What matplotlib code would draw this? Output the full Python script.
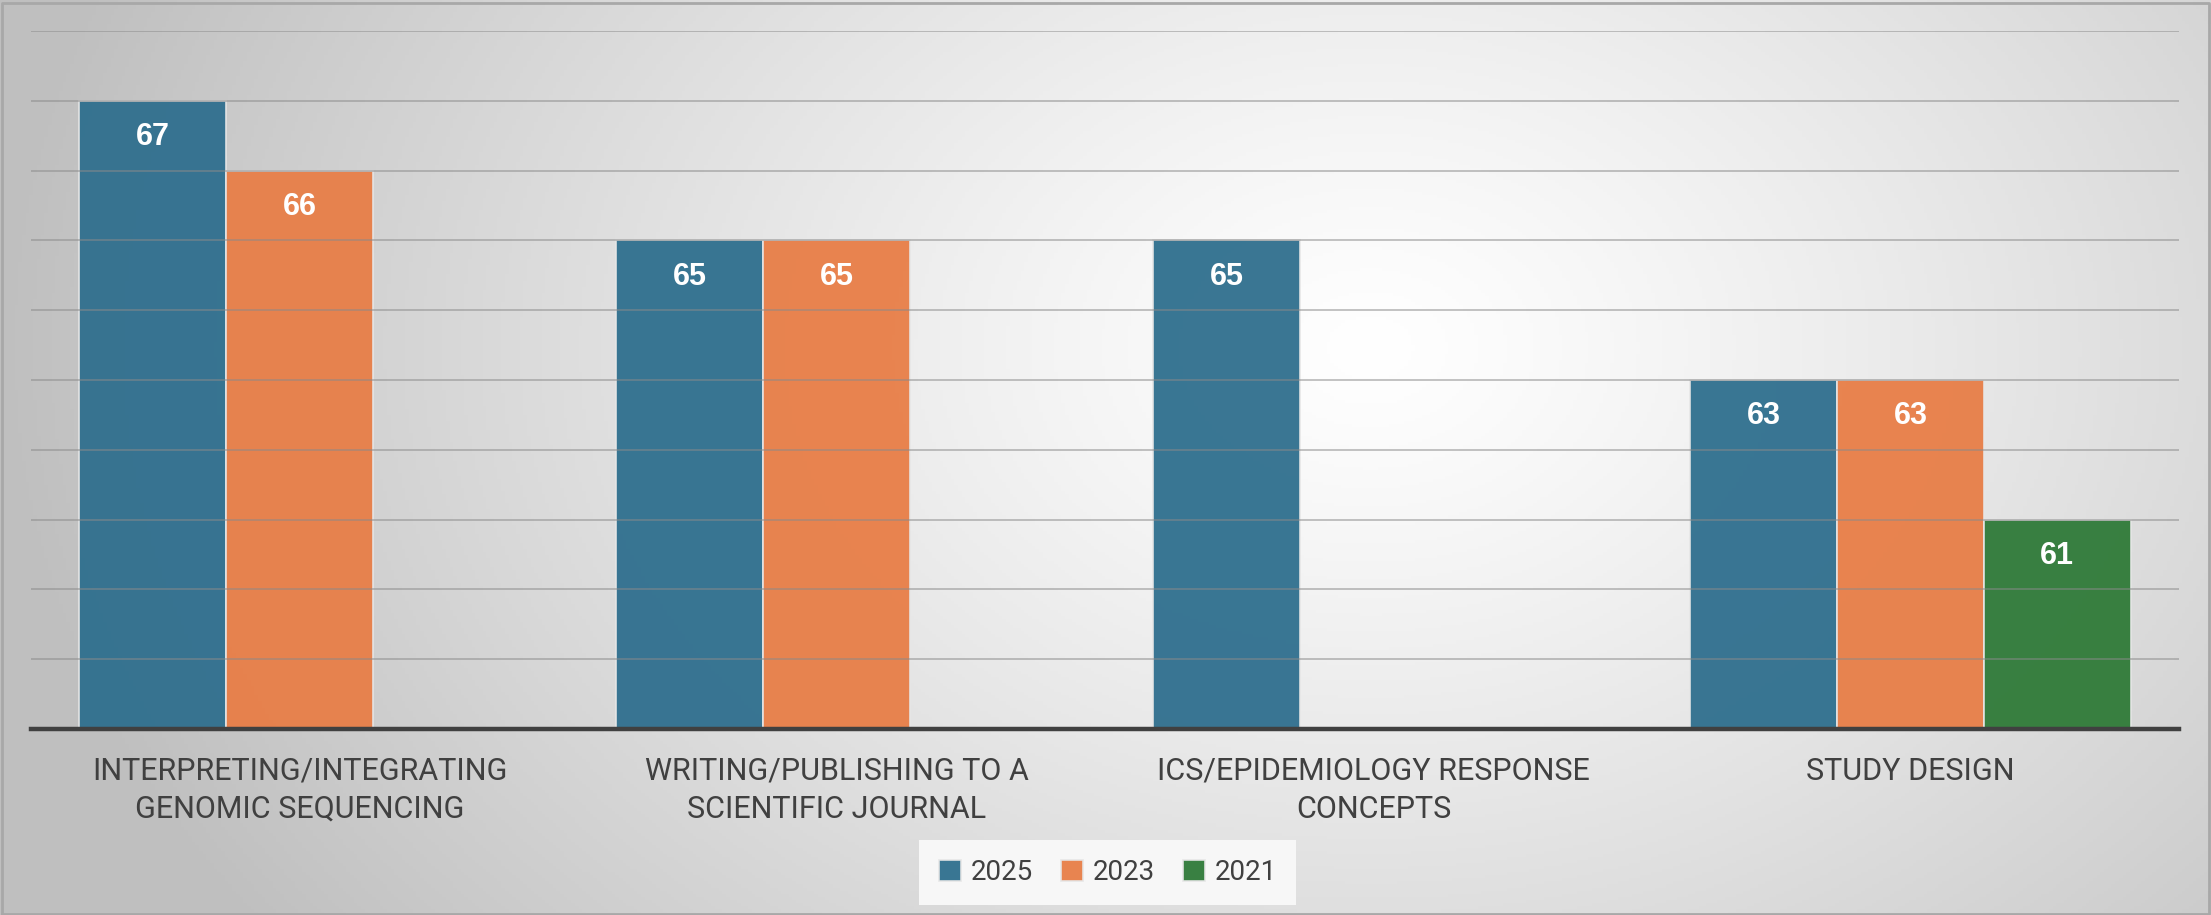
import matplotlib
matplotlib.use("Agg")
import matplotlib.pyplot as plt
import numpy as np

categories = ["INTERPRETING/INTEGRATING\nGENOMIC SEQUENCING",
              "WRITING/PUBLISHING TO A\nSCIENTIFIC JOURNAL",
              "ICS/EPIDEMIOLOGY RESPONSE\nCONCEPTS",
              "STUDY DESIGN"]
years = ["2025", "2023", "2021"]
v2025 = [67, 65, 65, 63]
v2023 = [66, 65, np.nan, 63]
v2021 = [np.nan, np.nan, np.nan, 61]
colors = ["#2f6f8e", "#e87e47", "#2f7a38"]

label_font = ["Liberation Sans Narrow", "Roboto", "DejaVu Sans"]

fig = plt.figure(figsize=(22.11, 9.15), dpi=100)

# radial gradient background
bg = fig.add_axes([0, 0, 1, 1], zorder=-5)
gx, gy = np.meshgrid(np.linspace(0, 1, 600), np.linspace(0, 1, 300))
r = np.sqrt(((gx - 0.62) / 0.62) ** 2 + ((gy - 0.38) / 1.1) ** 2)
shade = 1.0 - 0.25 * np.clip(r, 0, 1) ** 1.2
bg.imshow(np.dstack([shade] * 3), extent=[0, 1, 0, 1], aspect="auto", origin="upper")
bg.set_xlim(0, 1)
bg.set_ylim(0, 1)
bg.axis("off")
# thin frame around the picture
bg.plot([0.001, 0.999, 0.999, 0.001, 0.001], [0.001, 0.001, 0.997, 0.997, 0.001],
        color="#a8a8a8", lw=2, transform=bg.transAxes, clip_on=False)

ax = fig.add_axes([0.014, 0.2033, 0.9715, 0.7627])
ax.patch.set_alpha(0)

x = np.arange(len(categories))
w = 0.82 / 3
series = [v2025, v2023, v2021]
for i, (vals, c, yr) in enumerate(zip(series, colors, years)):
    pos = x + (i - 1) * w
    bars = ax.bar(pos, vals, width=w, color=c, alpha=0.95, edgecolor="#e6e6e6",
                  linewidth=1.2, label=yr, zorder=2)
    for p, v in zip(pos, vals):
        if not np.isnan(v):
            ax.text(p, v - 0.52, f"{v:g}", ha="center", va="center", color="white",
                    fontsize=22, fontweight="bold", family="Liberation Sans", zorder=4)

ax.set_xlim(-0.5, 3.5)
ax.set_ylim(58, 68)
ax.set_yticks(np.arange(59, 69, 1))
ax.yaxis.grid(True, color="#8a8a8a", lw=1.3, alpha=0.55, zorder=3)
ax.set_axisbelow(False)
ax.tick_params(axis="y", length=0, labelleft=False)
ax.tick_params(axis="x", length=0, pad=20)
ax.set_xticks(x)
ax.set_xticklabels(categories, fontsize=22, color="#404040", family=label_font,
                   linespacing=1.4)
for s in ["top", "right", "left"]:
    ax.spines[s].set_visible(False)
ax.spines["bottom"].set_color("#404040")
ax.spines["bottom"].set_linewidth(3.2)
ax.spines["bottom"].set_zorder(5)

leg = fig.legend(loc="center", bbox_to_anchor=(0.501, 0.0465), ncol=3, frameon=True,
                 handlelength=0.8, handleheight=0.8, handletextpad=0.35,
                 columnspacing=1.0, borderpad=0.5, prop={"family": "Roboto", "size": 20})
leg.get_frame().set_facecolor("#f7f7f7")
leg.get_frame().set_edgecolor("none")
leg.get_frame().set_alpha(1)
leg.get_frame().set_boxstyle("square", pad=0.2)
for t in leg.get_texts():
    t.set_color("#404040")

fig.savefig("out.png", dpi=100)
